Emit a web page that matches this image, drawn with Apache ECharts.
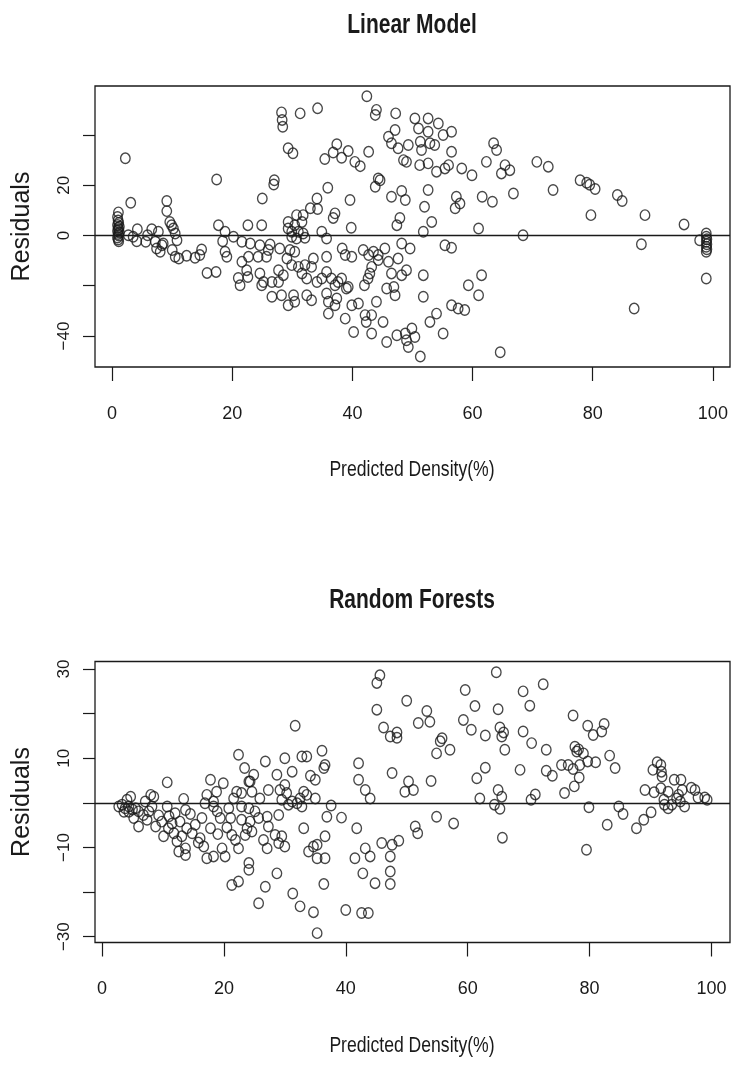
<!DOCTYPE html>
<html>
<head>
<meta charset="utf-8">
<script src="https://cdn.jsdelivr.net/npm/echarts@6/dist/echarts.min.js"></script>
<style>
  html, body { margin: 0; padding: 0; background: #fff; }
  #chart { width: 731px; height: 1077px; }
</style>
</head>
<body>
<div id="chart"></div>
<script>
// residuals vs predicted density, [predicted, residual]
const lmPoints = [
  [2.2,30.7],[3.1,13],[1.05,9.2],
  [0.9,7.4],[1.0,6.0],[1.1,5.0],[0.9,4.2],[1.2,3.5],[1.0,3.0],[1.1,2.4],[0.9,1.8],[1.2,1.2],[1.0,0.6],[1.1,0.0],[0.9,-0.8],[1.0,-1.6],[1.1,-2.3],
  [2.7,0.1],[3.5,-0.5],[4.2,2.5],[4.1,-2.3],[5.6,-2.5],[5.9,0.1],[6.6,2.5],[7.2,-2.5],[7.4,-5.2],[7.7,1.5],[8.0,-6.5],[8.3,-3.9],[8.5,-3.2],
  [9.1,13.7],[9.1,9.7],[9.6,5.4],[9.9,4.1],[10.2,2.8],[10.5,0.8],[10.8,-1.9],[10.0,-5.8],[10.5,-8.5],[11.1,-9.2],[12.4,-8.1],[13.8,-8.9],
  [14.6,-7.8],[14.9,-5.6],[15.8,-14.9],[17.3,-14.5],[17.4,22.3],[17.7,4.1],[18.8,1.5],[18.4,-2.3],[18.8,-6.5],[19.1,-8.5],[20.2,-0.5],
  [21.6,-2.5],[22.6,4.1],[23.0,-3.2],[21.6,-10.5],[21.0,-16.9],[21.3,-19.8],[22.6,-16.5],[22.7,-8.5],
  [42.4,55.4],[28.2,49],[31.3,48.6],[34.2,50.6],[28.3,46],[28.4,43.3],[44,50],[43.8,48],[47.2,48.6],[47.1,42],[46,39.3],[46.5,36.7],
  [47.6,34.7],[49.3,36],[48.5,30],[49,29.3],[29.3,34.7],[30.1,32.7],[37.4,36.3],[36.8,33],[35.4,30.4],[38.2,30.9],[39.3,33.6],[40.4,29.3],
  [41.3,27.6],[42.7,33.3],[44.3,22.7],[44.6,22],[43.8,19.4],[46.5,15.4],[48.2,17.7],[48.8,14.1],[27,22],[26.9,20.3],[25,14.7],[35.9,19],
  [34.1,14.7],[33,10.8],[34.2,10.5],[39.6,14.1],[37.1,8.8],[36.8,7],[47.9,7],[47.4,4.1],[24.9,4.1],[30.7,8.1],[31.8,8.1],[29.3,5.4],
  [31.6,5.4],[30.4,4.1],[29.3,2.8],[29.9,1.5],[31,1.5],[31.8,0.8],[34.9,1.5],[35.7,-1.2],[39.8,3.1],[29.9,-0.5],[30.7,-1.2],[32.1,-0.9],
  [48.2,-3.2],[24.6,-3.9],[26.3,-3.6],[27.9,-5.2],[29.6,-5.8],[30.4,-6.5],[24.3,-8.5],[25.7,-8.5],[26,-5.8],[29.1,-9.2],[29.9,-11.8],
  [31,-12.5],[32.1,-11.8],[33.5,-9.2],[33.2,-12.5],[35.7,-8.5],[38.3,-5.2],[38.8,-7.8],[39.9,-8.5],[41.8,-5.8],[42.7,-7.8],[43.5,-6.5],
  [44.3,-7.8],[45.4,-5.2],[44.3,-9.8],[46,-10.5],[43.2,-12.5],[46.5,-15.1],[48.2,-15.8],[22.4,-13.8],[24.6,-15.1],[25.2,-18.5],[24.9,-19.8],
  [26.6,-18.5],[27.7,-18.5],[28.5,-15.8],[27.7,-13.8],[31.6,-15.1],[32.4,-17.1],[34.1,-18.5],[34.9,-17.1],[35.7,-14.5],[36.5,-17.1],
  [37.1,-19.8],[37.6,-18.5],[38.2,-17.1],[39.3,-20.5],[42,-19.8],[42.6,-17.1],[42.9,-15.1],[26.6,-24.4],[28.2,-23.8],[29.3,-27.8],
  [30.2,-23.8],[30.4,-26.4],[32.4,-23.8],[33.2,-25.8],[35.7,-23.1],[36,-26.4],[36,-31.1],[37.1,-27.8],[37.4,-25.1],[39,-21.1],[38.8,-33.1],
  [39.9,-27.8],[41,-27.1],[42.1,-31.7],[42.3,-34.4],[43.2,-31.7],[44,-26.4],[40.2,-38.4],[43.2,-39],[45.1,-34.4],[45.7,-42.4],[47.4,-39.7],
  [48.8,-39],[49.3,-44.4],[46.9,-20.5],[47.1,-23.8],[47.6,-9.2],[45.7,-21.1],
  [50.4,46.6],[51,42.6],[52.6,46.6],[54.3,44.6],[52.6,41.3],[55.1,40],[56.5,41.3],[51.3,37.3],[51.5,34],[52.9,36.7],[53.7,36],[56.5,33.3],
  [51.2,28],[52.6,28.7],[54,25.4],[55.4,26.7],[56,28],[58.2,26.7],[59.9,24],[62.3,29.3],[63.5,36.7],[64,34],[65.4,28],[64.8,24.7],
  [66.2,26],[70.7,29.3],[72.6,27.4],[73.4,18.1],[52.6,18.1],[52,11.4],[53.2,5.4],[51.8,1.5],[57.3,15.4],[57.9,12.7],[57.1,10.8],
  [61.6,15.4],[63.3,13.4],[66.8,16.7],[61,2.8],[68.4,0.1],[49.6,-5.2],[55.4,-3.9],[56.5,-4.9],[49,-13.8],[51.8,-15.8],[61.5,-15.8],
  [59.3,-19.8],[61,-23.8],[51.8,-24.4],[56.5,-27.8],[57.6,-29.1],[58.7,-29.7],[54,-31.1],[52.9,-34.4],[55.1,-39],[49.9,-37],[50.4,-40.4],
  [49,-41.7],[51.3,-48.2],[64.6,-46.5],
  [77.9,22],[79,21],[79.5,20.2],[80.4,18.5],[84.1,16.1],[84.9,13.7],[79.7,8.1],[88.7,8.1],[95.2,4.4],[88.1,-3.5],[97.8,-1.9],
  [98.9,0.8],[98.9,-0.5],[99,-1.5],[98.9,-2.5],[99,-3.5],[98.9,-4.5],[99,-5.5],[98.9,-6.5],[98.9,-17.1],[86.9,-29.1]
];

const rfPoints = [
  [22.4,10.8],[23.4,7.8],[24.1,4.8],[10.7,4.6],[17.8,5.2],[19.9,4.4],[18.8,2.5],[17.2,1.8],[22.1,2.5],[22.9,2.2],[21.6,1],[13.4,0.9],
  [16.9,-0.1],[18.3,0.3],[8.5,1.4],[8,1.8],[7.1,0.3],[4.7,1.4],[4.1,0.7],
  [2.75,-0.8],[3.3,-0.4],[3.8,-1.2],[4.4,-0.8],[5,-1.5],[3.6,-2],[4.4,-2],
  [5.5,-1.2],[6,-1.9],[5.2,-3.4],[6,-5.3],[6.8,-2.7],[7.7,-1.9],[7.4,-3.8],[8.2,-0.8],[8.8,-5.3],[10.1,-7.5],[9.8,-4.2],[10.7,-0.8],
  [10.9,-5.7],[11.5,-4.6],[11.8,-6.8],[12,-2.3],[12.8,-4.2],[13.1,-7.5],[13.7,-1.6],[13.9,-5.7],[13.7,-10.2],[12.6,-10.9],[13.7,-11.7],
  [14.8,-6.8],[15.3,-4.9],[16.1,-7.9],[16.4,-3.4],[16.7,-9.8],[17.2,-12.4],[17.8,-5.7],[18.3,-12],[18.3,-0.8],[18.9,-1.9],[19.4,-3.4],
  [19.7,-10.2],[20.2,-12],[20.8,-1.2],[21.1,-3.4],[21.3,-7.2],[21.9,-8.3],[22.4,-10.2],[22.9,-3.8],[23.8,-5.7],[24.1,-13.5],[21.3,-18.4],
  [22.4,-17.6],[22.9,-0.8],[23.5,-7.2],[9.3,-2.8],[14.5,-2.5],[15.8,-8.9],[19,-7],[20.5,-5.5],[12.3,-8.6],[11,-3],
  [45.6,28.6],[45.1,26.9],[45.1,20.9],[50,22.9],[46.2,16.9],[47.3,14.9],[48.4,15.8],[48.4,14.6],[31.7,17.3],[36.1,11.7],[36.6,8.5],
  [36.4,7.8],[32.8,10.4],[33.6,10.4],[30,10],[26.8,9.3],[31.2,7],[28.7,6.3],[34.2,6.1],[35,5.2],[42.1,8.9],[42.1,5.2],[43.2,2.9],[44,1],
  [47.6,6.7],[49.7,2.5],[50.3,4.8],[24.9,6.3],[24.3,4.8],[24.6,2.5],[25.9,1],[27.3,2.9],[29.2,2.9],[30,4],[30.3,2.2],[29.5,0.7],
  [30.6,-0.4],[31.2,0.3],[32,-0.1],[32.5,1],[33.1,2.5],[33.6,1.8],[32.8,-0.8],[35,1],[37.6,-0.6],[36.9,-3.1],[39.3,-3.3],[41.8,-5.7],
  [24.1,-1.2],[25.1,-1.9],[25.7,-3.4],[24.3,-4.2],[27.1,-3.1],[29,-2.7],[27.3,-5.3],[24.6,-6.4],[28.4,-7.2],[29,-9],[29.5,-7.5],[30,-9.8],
  [26.5,-8.3],[27.1,-10.2],[24.1,-15],[33.1,-5.7],[36.6,-7.5],[35.3,-9.4],[34.7,-9.8],[33.9,-10.9],[35.3,-12.4],[36.6,-12.4],
  [28.7,-15.8],[26.8,-18.8],[25.7,-22.5],[31.3,-20.3],[32.5,-23.2],[34.7,-24.5],[36.4,-18.2],[35.3,-29.2],[41.5,-12.4],[43.2,-10.2],
  [44,-12],[42.8,-15.8],[44.8,-18],[45.9,-9],[47.6,-9.4],[48.7,-8.5],[47.3,-12],[47.3,-15.4],[47.3,-18.2],[40,-24],[42.6,-24.7],[43.7,-24.7],
  [64.7,29.3],[59.6,25.3],[61.2,21.7],[65,21],[69.1,25],[70.2,21.8],[72.4,26.6],[53.3,20.6],[51.9,17.9],[53.8,18.2],[59.3,18.6],
  [60.6,16.4],[62.9,15.1],[65.3,16.9],[65.6,14.9],[65.9,15.8],[66.1,11.9],[69.1,16],[70.5,13.4],[72.9,11.9],[55.5,13.8],[55.8,14.5],
  [54.9,11.1],[57.1,11.9],[62.9,7.9],[61.5,5.5],[68.6,7.4],[72.9,7.2],[73.9,6.1],[75.4,8.5],[76.5,8.5],[75.9,2.2],[51.1,2.9],[54,4.9],
  [62,1],[65,2.9],[65.6,1.4],[64.4,-0.4],[65.3,-1.3],[70.4,0.7],[71.1,1.9],[54.9,-3.1],[51.4,-5.3],[51.8,-6.8],[57.7,-4.6],[65.7,-7.8],
  [77.3,19.6],[79.7,17.3],[80.6,15.2],[82,16],[82.4,17.7],[77.6,12.6],[77.9,11.5],[79,11.1],[78.2,12],[77.3,7.6],[78.4,8.5],[79.7,9.3],
  [81,9.1],[83.3,10.6],[84.2,7.8],[78.3,5.7],[77.5,3.7],[79.9,-1],[84.8,-0.8],[85.5,-2.5],[82.9,-4.9],[79.5,-10.5],[87.7,-5.7],[88.9,-3.8],
  [90.1,-2.1],[89.1,2.9],[90.6,2.4],[90.4,7.4],[91.1,9.1],[91.7,8.5],[91.8,7],[91.9,5.9],[91.7,3.3],[92.9,2.5],[92.2,0.7],[92.3,-0.4],
  [92.9,-1.2],[93.5,-0.4],[93.9,5.2],[95,5.2],[94.3,1],[94.9,0.3],[95.2,2.9],[95.6,-0.8],[94.6,1.8],[96.7,3.4],[97.3,2.9],[97.8,1.2],
  [98.9,1.2],[99.3,0.7]
];

const xTicks = [0, 20, 40, 60, 80, 100];
const lmYTicks = [-40, -20, 0, 20, 40];
const lmYLabels = [-40, 0, 20];
const rfYTicks = [-30, -20, -10, 0, 10, 20, 30];
const rfYLabels = [-30, -10, 10, 30];

const FONT = "'Liberation Sans',Arial,sans-serif";
const INK = '#1a1a1a';

function minus(v) {
  return v < 0 ? '\u2212' + Math.abs(v) : String(v);
}

function xAxisFor(idx, min, max) {
  return {
    type: 'value', gridIndex: idx, min: min, max: max,
    axisLine: {show: false, onZero: false},
    splitLine: {show: false},
    axisTick: {show: true, length: 14, customValues: xTicks, lineStyle: {color: INK, width: 1.2}},
    axisLabel: {customValues: xTicks, margin: 38, fontSize: 18, fontFamily: FONT, color: INK}
  };
}

function yAxisFor(idx, min, max, ticks, labels) {
  return {
    type: 'value', gridIndex: idx, min: min, max: max,
    axisLine: {show: false, onZero: false},
    splitLine: {show: false},
    axisTick: {show: true, length: 12, customValues: ticks, lineStyle: {color: INK, width: 1.2}},
    axisLabel: {customValues: labels, rotate: 90, margin: 22, fontSize: 17, fontFamily: FONT, color: INK,
      formatter: minus},
    name: 'Residuals', nameLocation: 'middle', nameGap: 60,
    nameTextStyle: {fontSize: 25, fontFamily: FONT, color: INK}
  };
}

function scatterFor(idx, pts) {
  return {
    type: 'scatter', xAxisIndex: idx, yAxisIndex: idx, data: pts,
    symbol: 'circle', symbolSize: [9.5, 10.5], silent: true,
    itemStyle: {color: 'rgba(255,255,255,0)', borderColor: INK, borderWidth: 1.4},
    markLine: {
      silent: true, symbol: ['none', 'none'], label: {show: false},
      lineStyle: {color: INK, width: 1.4, type: 'solid'},
      data: [{yAxis: 0}]
    }
  };
}

// R output is a bit stretched vertically, so the horizontal texts get scaleY
function stretchedText(str, x, y, size, weight) {
  return {
    type: 'text', x: x, y: y, scaleY: 1.3, silent: true,
    style: {
      text: str, fill: INK,
      font: (weight || 'normal') + ' ' + size + 'px ' + FONT,
      textAlign: 'center', textVerticalAlign: 'middle',
      align: 'center', verticalAlign: 'middle'
    }
  };
}

let chartDom = document.getElementById('chart');
let myChart = echarts.init(chartDom);

let option = {
  animation: false,
  backgroundColor: '#fff',
  graphic: [
    stretchedText('Linear Model', 412, 25, 21, 'bold'),
    stretchedText('Predicted Density(%)', 412, 470, 17.6),
    stretchedText('Random Forests', 412, 600.5, 21, 'bold'),
    stretchedText('Predicted Density(%)', 412, 1045.5, 17.6)
  ],
  grid: [
    {left: 95, top: 86, width: 635, height: 281, show: true, borderColor: INK, borderWidth: 1.3, backgroundColor: 'transparent'},
    {left: 95, top: 661.5, width: 635, height: 281, show: true, borderColor: INK, borderWidth: 1.3, backgroundColor: 'transparent'}
  ],
  xAxis: [xAxisFor(0, -2.85, 102.85), xAxisFor(1, -1.15, 103.05)],
  yAxis: [
    yAxisFor(0, -52.35, 59.5, lmYTicks, lmYLabels),
    yAxisFor(1, -31.3, 31.7, rfYTicks, rfYLabels)
  ],
  series: [scatterFor(0, lmPoints), scatterFor(1, rfPoints)]
};

myChart.setOption(option);

window.addEventListener('resize', () => {
  myChart.resize();
});
</script>
</body>
</html>
